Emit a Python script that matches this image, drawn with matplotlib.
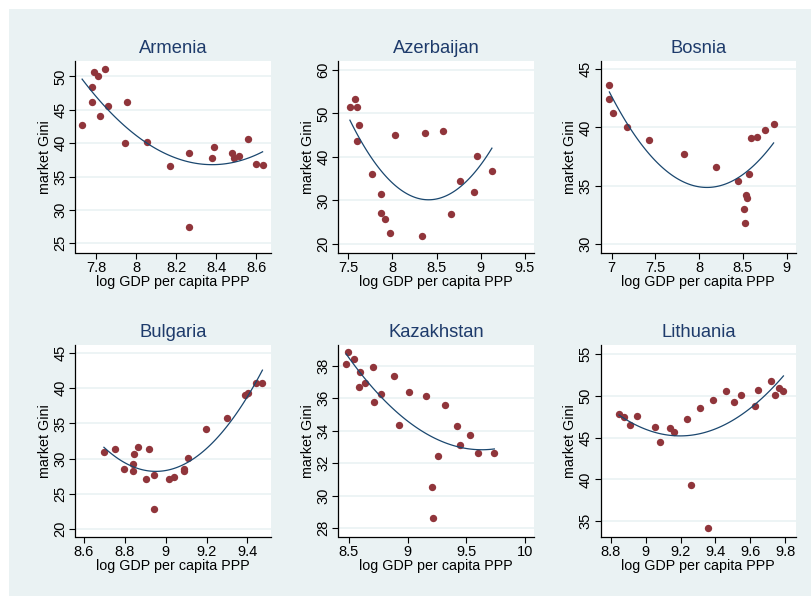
import numpy as np
import matplotlib
matplotlib.use('Agg')
import matplotlib.pyplot as plt
from matplotlib.patches import Rectangle

plt.rcParams['font.family'] = ['Liberation Sans', 'DejaVu Sans']

# scatter data: log GDP per capita PPP vs market Gini
armenia_x = [7.73, 7.778, 7.778, 7.79, 7.81, 7.845, 7.817, 7.857, 7.953, 7.942, 8.053,
             8.17, 8.263, 8.263, 8.38, 8.39, 8.48, 8.487, 8.513, 8.557, 8.598, 8.632]
armenia_y = [42.7, 48.4, 46.2, 50.6, 50.1, 51.15, 44.0, 45.6, 46.1, 39.95, 40.15,
             36.55, 38.45, 27.4, 37.75, 39.45, 38.45, 37.8, 38.1, 40.6, 36.9, 36.7]

azerbaijan_x = [7.519, 7.572, 7.594, 7.625, 7.594, 7.764, 7.866, 7.866, 7.919, 7.975,
                8.028, 8.334, 8.364, 8.572, 8.662, 8.76, 8.919, 8.953, 9.126]
azerbaijan_y = [51.36, 53.27, 51.36, 47.3, 43.6, 36.0, 31.5, 27.05, 25.8, 22.45,
                45.0, 21.9, 45.55, 46.0, 26.9, 34.4, 31.9, 40.1, 36.8]

bosnia_x = [6.973, 6.973, 7.011, 7.179, 7.431, 7.828, 8.195, 8.447, 8.573, 8.511,
            8.519, 8.538, 8.546, 8.595, 8.656, 8.756, 8.851]
bosnia_y = [43.68, 42.48, 41.27, 40.07, 38.89, 37.74, 36.57, 35.39, 36.0, 32.98,
            31.81, 34.16, 33.93, 39.06, 39.21, 39.75, 40.3]

bulgaria_x = [8.698, 8.752, 8.796, 8.838, 8.838, 8.845, 8.866, 8.917, 8.904, 8.944, 8.941,
              9.018, 9.041, 9.088, 9.088, 9.108, 9.196, 9.30, 9.387, 9.402, 9.441, 9.473]
bulgaria_y = [30.88, 31.4, 28.54, 29.3, 28.2, 30.64, 31.64, 31.4, 27.1, 27.63, 22.82,
              27.1, 27.4, 28.59, 28.25, 30.1, 34.2, 35.74, 39.04, 39.37, 40.7, 40.7]

kazakhstan_x = [8.477, 8.489, 8.546, 8.591, 8.588, 8.64, 8.708, 8.717, 8.774, 8.888, 8.928,
                9.008, 9.153, 9.204, 9.213, 9.261, 9.321, 9.424, 9.45, 9.527, 9.595, 9.738]
kazakhstan_y = [38.12, 38.83, 38.43, 37.61, 36.70, 36.97, 37.9, 35.77, 36.24, 37.34, 34.34,
                36.37, 36.12, 30.54, 28.64, 32.44, 35.58, 34.28, 33.12, 33.72, 32.61, 32.63]

lithuania_x = [8.848, 8.876, 8.911, 8.951, 9.052, 9.085, 9.137, 9.165, 9.238, 9.261, 9.312,
               9.356, 9.385, 9.462, 9.506, 9.548, 9.624, 9.641, 9.716, 9.739, 9.766, 9.789]
lithuania_y = [47.84, 47.49, 46.53, 47.56, 46.25, 44.46, 46.09, 45.66, 47.17, 39.33, 48.48,
               34.17, 49.51, 50.51, 49.23, 50.03, 48.8, 50.67, 51.7, 50.07, 50.9, 50.59]

countries = ['Armenia', 'Azerbaijan', 'Bosnia', 'Bulgaria', 'Kazakhstan', 'Lithuania']
xs = [armenia_x, azerbaijan_x, bosnia_x, bulgaria_x, kazakhstan_x, lithuania_x]
ys = [armenia_y, azerbaijan_y, bosnia_y, bulgaria_y, kazakhstan_y, lithuania_y]

xticks = [[7.8, 8, 8.2, 8.4, 8.6], [7.5, 8, 8.5, 9, 9.5], [7, 7.5, 8, 8.5, 9],
          [8.6, 8.8, 9, 9.2, 9.4], [8.5, 9, 9.5, 10], [8.8, 9, 9.2, 9.4, 9.6, 9.8]]
yticks = [[25, 30, 35, 40, 45, 50], [20, 30, 40, 50, 60], [30, 35, 40, 45],
          [20, 25, 30, 35, 40, 45], [28, 30, 32, 34, 36, 38], [35, 40, 45, 50, 55]]
xlims = [(7.697, 8.673), (7.39, 9.60), (6.874, 9.107), (8.559, 9.514), (8.412, 10.074), (8.743, 9.861)]
ylims = [(23.6, 52.25), (17.95, 61.99), (29.23, 45.69), (18.9, 46.1), (27.48, 39.26), (33.17, 56.0)]

W, H = 812, 596
bg = '#EAF2F3'
fig = plt.figure(figsize=(W / 100, H / 100), dpi=100)
fig.patch.set_facecolor('white')
fig.add_artist(Rectangle((9 / W, 0), 1 - 9 / W, 1 - 9 / H, transform=fig.transFigure,
                         facecolor=bg, edgecolor='none', zorder=0))

lefts = [75.5, 338.5, 600.7]
tops = [61.3, 345.3]
aw, ah = 195.3, 191.4

for i, name in enumerate(countries):
    r, c = divmod(i, 3)
    ax = fig.add_axes([lefts[c] / W, 1 - (tops[r] + ah) / H, aw / W, ah / H])
    ax.set_facecolor('white')
    ax.set_axisbelow(True)
    ax.grid(axis='y', color=bg, linewidth=1.2)
    x = np.array(xs[i])
    y = np.array(ys[i])
    ax.scatter(x, y, s=28, color='#90353B', linewidths=0, zorder=3)
    # quadratic fit, like stata qfit
    p = np.polyfit(x, y, 2)
    xf = np.linspace(x.min(), x.max(), 100)
    ax.plot(xf, np.polyval(p, xf), color='#1A476F', linewidth=0.9, zorder=4)
    ax.set_xlim(xlims[i])
    ax.set_ylim(ylims[i])
    ax.set_xticks(xticks[i])
    ax.set_yticks(yticks[i])
    ax.set_xticklabels([('%g' % t) for t in xticks[i]])
    ax.set_yticklabels([('%g' % t) for t in yticks[i]], rotation=90, va='center')
    for s in ['top', 'right']:
        ax.spines[s].set_visible(False)
    for s in ['left', 'bottom']:
        ax.spines[s].set_linewidth(0.9)
    ax.tick_params(length=4, width=0.8, labelsize=10.5, pad=2)
    ax.set_title(name, fontsize=13.2, color='#1E3B6B', pad=6)
    ax.set_xlabel('log GDP per capita PPP', fontsize=10.3, labelpad=0)
    ax.set_ylabel('market Gini', fontsize=10.3, labelpad=1)

fig.savefig('out.png', dpi=100, facecolor=fig.get_facecolor())
